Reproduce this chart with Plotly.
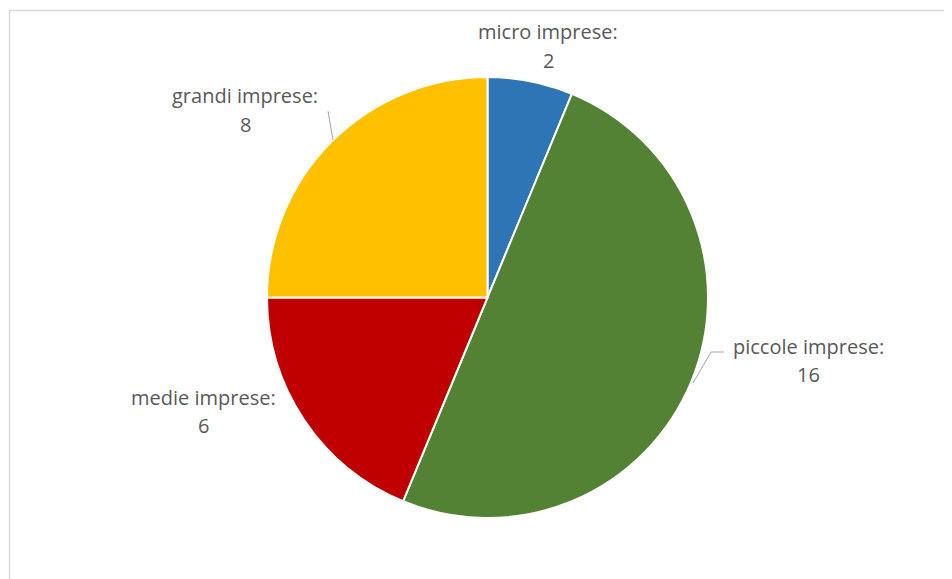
import plotly.graph_objects as go

categories = ["micro imprese", "piccole imprese", "medie imprese", "grandi imprese"]
values = [2, 16, 6, 8]
colors = ["#2E75B6", "#548235", "#C00000", "#FFC000"]

# page body has an 8px margin: figure occupies window minus that offset
OFF = 8
W, H = 952 - OFF, 579 - OFF

def px(x):
    return (x - OFF) / W

def py(y):
    return 1 - (y - OFF) / H

# label centers in window pixels (layout positions)
label_pos = {
    "micro imprese": (548, 32),
    "piccole imprese": (808, 346),
    "medie imprese": (203, 397),
    "grandi imprese": (245, 96),
}

fig = go.Figure(go.Pie(
    labels=categories,
    values=values,
    sort=False,
    direction="clockwise",
    rotation=0,
    marker=dict(colors=colors, line=dict(color="white", width=2)),
    textinfo="none",
    hoverinfo="label+value",
    showlegend=False,
    domain=dict(x=[px(267), px(708)], y=[py(518), py(77)]),
))

font = dict(family="'Open Sans', sans-serif", size=20, color="#595959")
annotations = []
for cat, val in zip(categories, values):
    cx, cy = label_pos[cat]
    annotations.append(dict(x=px(cx), y=py(cy), xref="paper", yref="paper",
                            text=f"{cat}:", showarrow=False, font=font,
                            xanchor="center", yanchor="middle"))
    annotations.append(dict(x=px(cx), y=py(cy + 28), xref="paper", yref="paper",
                            text=str(val), showarrow=False, font=font,
                            xanchor="center", yanchor="middle"))

shapes = [
    # chart frame
    dict(type="rect", xref="paper", yref="paper",
         x0=px(9.5), x1=px(952 + 20), y0=py(579 + 20), y1=py(10.5),
         line=dict(color="#D9D9D9", width=1.5), fillcolor="rgba(0,0,0,0)"),
    # leader lines
    dict(type="path", xref="paper", yref="paper",
         path=f"M {px(693)},{py(383)} L {px(711)},{py(352)} L {px(724)},{py(352)}",
         line=dict(color="#A6A6A6", width=1)),
    dict(type="line", xref="paper", yref="paper",
         x0=px(328), y0=py(111), x1=px(333), y1=py(140),
         line=dict(color="#A6A6A6", width=1)),
]

fig.update_layout(
    width=W, height=H,
    margin=dict(l=0, r=0, t=0, b=0),
    paper_bgcolor="white",
    plot_bgcolor="white",
    annotations=annotations,
    shapes=shapes,
)

fig.write_html("out.html")
